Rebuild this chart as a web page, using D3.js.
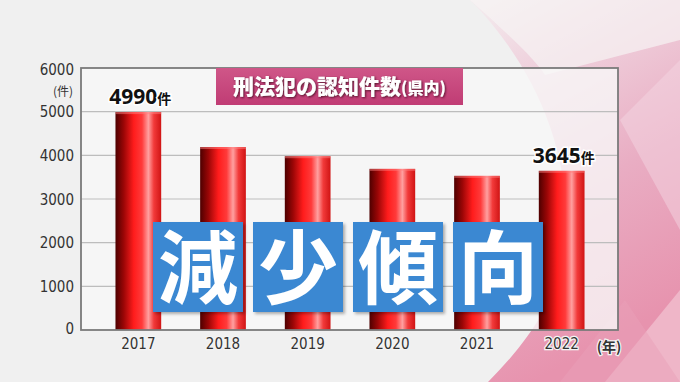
<!DOCTYPE html>
<html><head><meta charset="utf-8">
<script src="https://cdn.jsdelivr.net/npm/d3@7"></script>
<style>
html,body{margin:0;padding:0;background:#f1f1f1;overflow:hidden}
svg{display:block}
</style></head>
<body>
<svg id="c" width="680" height="382"></svg>
<script>
const years = ["2017","2018","2019","2020","2021","2022"];
const counts = [4990, 4190, 3980, 3690, 3530, 3645];
const yTicks = [0,1000,2000,3000,4000,5000,6000];
const labelled = {"2017":"4990", "2022":"3645"};
const title = "刑法犯の認知件数";
const titleSub = "(県内)";
const banner = ["減","少","傾","向"];

(function(){
const svg = d3.select("#c");
const W = 680, H = 382;
const defs = svg.append("defs");

// background
svg.append("rect").attr("width",W).attr("height",H).attr("fill","#f0f0f0");
const pg = defs.append("linearGradient").attr("id","pk").attr("x1","0").attr("y1","0").attr("x2","0.3").attr("y2","1");
pg.append("stop").attr("offset","0").attr("stop-color","#f4eef0");
pg.append("stop").attr("offset","0.25").attr("stop-color","#efd0dc");
pg.append("stop").attr("offset","0.6").attr("stop-color","#e9adc3");
pg.append("stop").attr("offset","1").attr("stop-color","#e793ae");
svg.append("path").attr("d","M470,0 C530,60 575,150 565,250 C558,300 525,345 488,382 L680,382 L680,0 Z")
  .attr("fill","url(#pk)");
svg.append("path").attr("d","M470,0 C515,40 535,60 545,75 L680,40 L680,0 Z").attr("fill","#f6f3f4").attr("opacity",0.7);
svg.append("path").attr("d","M605,382 L680,290 L680,382 Z").attr("fill","#f2c4d3").attr("opacity",0.7);
svg.append("path").attr("d","M560,382 L625,300 L680,382 Z").attr("fill","#e99fb8").attr("opacity",0.5);
svg.append("path").attr("d","M620,120 L680,60 L680,230 Z").attr("fill","#f3d6e1").attr("opacity",0.5);

const pL = 81, pR = 618, pT = 68, pB = 330;
const x = d3.scaleBand().domain(years).range([96,604]).paddingInner(0.46).paddingOuter(0.23);
const y = d3.scaleLinear().domain([0,6000]).range([pB, pT]);

// plot area
svg.append("rect").attr("x",pL).attr("y",pT).attr("width",pR-pL).attr("height",pB-pT)
  .attr("fill","#f8f8f8").attr("opacity",0.8);

// gridlines
svg.append("g").selectAll("line").data(yTicks.filter(d=>d>0&&d<6000)).join("line")
  .attr("x1",pL).attr("x2",pR).attr("y1",d=>y(d)).attr("y2",d=>y(d))
  .attr("stroke","#bdbdbd").attr("stroke-width",1.2);

// bars
const bg = defs.append("linearGradient").attr("id","bar").attr("x1","0").attr("x2","1").attr("y1","0").attr("y2","0");
[["0","#4e0000"],["0.18","#9a0606"],["0.4","#ff1c1c"],["0.58","#ff3a3a"],["0.72","#ffa0a0"],["0.84","#f23a3a"],["1","#d01414"]]
  .forEach(([o,c])=>bg.append("stop").attr("offset",o).attr("stop-color",c));
svg.append("g").selectAll("rect").data(years).join("rect")
  .attr("x",d=>x(d)).attr("width",x.bandwidth())
  .attr("y",(d,i)=>y(counts[i])).attr("height",(d,i)=>y(0)-y(counts[i]))
  .attr("fill","url(#bar)");
svg.append("g").selectAll("rect").data(years).join("rect")
  .attr("x",d=>x(d)).attr("width",x.bandwidth())
  .attr("y",(d,i)=>y(counts[i])).attr("height",2)
  .attr("fill","#ff8080").attr("opacity",0.5);

// frame
svg.append("rect").attr("x",pL).attr("y",pT).attr("width",pR-pL).attr("height",pB-pT)
  .attr("fill","none").attr("stroke","#7a7a7a").attr("stroke-width",1.8);

const narrow = "'Liberation Sans Narrow','DejaVu Sans Condensed','Liberation Sans',sans-serif";
// y axis
const yAxis = d3.axisLeft(y).tickValues(yTicks).tickSize(0).tickPadding(7).tickFormat(d3.format("d"));
const ya = svg.append("g").attr("transform",`translate(${pL},0)`).call(yAxis);
ya.select(".domain").remove();
ya.selectAll("text").attr("font-family",narrow).attr("font-size",15).attr("fill","#333")
  .attr("dy",(d)=> d===6000 ? "0.4em" : d===0 ? "0.25em" : "0.35em");
svg.append("text").attr("x",63).attr("y",96).attr("text-anchor","middle")
  .attr("font-family","'Noto Sans CJK JP',sans-serif").attr("font-size",12).attr("fill","#333").text("(件)");

// x axis
const xAxis = d3.axisBottom(x).tickSize(0).tickPadding(8);
const xa = svg.append("g").attr("transform",`translate(0,${pB})`).call(xAxis);
xa.select(".domain").remove();
xa.selectAll("text").attr("font-family",narrow).attr("font-size",15).attr("fill","#333")
  .attr("stroke","#f4f4f4").attr("stroke-width",2.5).attr("paint-order","stroke");
svg.append("text").attr("x",609).attr("y",352).attr("text-anchor","middle")
  .attr("font-family","'Noto Sans CJK JP',sans-serif").attr("font-size",14).attr("font-weight","bold").attr("fill","#333")
  .attr("stroke","#f4f4f4").attr("stroke-width",2.5).attr("paint-order","stroke").text("(年)");

// value labels
years.forEach((yr,i)=>{
  if(!labelled[yr]) return;
  const t = svg.append("text").attr("x",x(yr)+x.bandwidth()/2+2).attr("y",y(counts[i])-8)
    .attr("text-anchor","middle").attr("fill","#111")
    .attr("stroke","#ffffff").attr("stroke-width",3).attr("paint-order","stroke");
  t.append("tspan").attr("font-family","'Noto Sans','Liberation Sans',sans-serif").attr("font-weight","bold").attr("font-size",21).text(labelled[yr]);
  t.append("tspan").attr("font-family","'Noto Sans CJK JP',sans-serif").attr("font-weight","bold").attr("font-size",14).text("件");
});

// title box
const tg = defs.append("linearGradient").attr("id","tt").attr("x1","0").attr("x2","0").attr("y1","0").attr("y2","1");
tg.append("stop").attr("offset","0").attr("stop-color","#cf5688");
tg.append("stop").attr("offset","1").attr("stop-color","#c03c74");
svg.append("rect").attr("x",216).attr("y",68).attr("width",247).attr("height",37).attr("fill","url(#tt)");
const sh = defs.append("filter").attr("id","ts").attr("x","-10%").attr("y","-20%").attr("width","120%").attr("height","150%");
sh.append("feDropShadow").attr("dx",1).attr("dy",1).attr("stdDeviation",0.8).attr("flood-color","#4a0a20").attr("flood-opacity",0.9);
const tt = svg.append("text").attr("x",339.5).attr("y",94).attr("text-anchor","middle").attr("fill","#fff")
  .attr("font-family","'Noto Sans CJK JP',sans-serif").attr("font-weight","900").attr("filter","url(#ts)");
tt.append("tspan").attr("font-size",21).text(title);
tt.append("tspan").attr("font-size",16).text(titleSub);

// banner
const bs = defs.append("filter").attr("id","bs").attr("x","-10%").attr("y","-10%").attr("width","125%").attr("height","125%");
bs.append("feDropShadow").attr("dx",2).attr("dy",2).attr("stdDeviation",1.5).attr("flood-color","#000").attr("flood-opacity",0.3);
const bx = d3.scaleBand().domain(banner).range([153,543]).paddingInner(0.1);
const bgp = svg.append("g");
bgp.selectAll("rect").data(banner).join("rect")
  .attr("x",d=>bx(d)).attr("y",222).attr("width",bx.bandwidth()).attr("height",90)
  .attr("fill","#3a88d2").attr("filter","url(#bs)");
bgp.selectAll("text").data(banner).join("text")
  .attr("x",d=>bx(d)+bx.bandwidth()/2).attr("y",297).attr("text-anchor","middle")
  .attr("font-family","'Noto Sans CJK JP',sans-serif").attr("font-weight","bold").attr("font-size",80)
  .attr("fill","#fff").text(d=>d);
})();
</script>
</body></html>
